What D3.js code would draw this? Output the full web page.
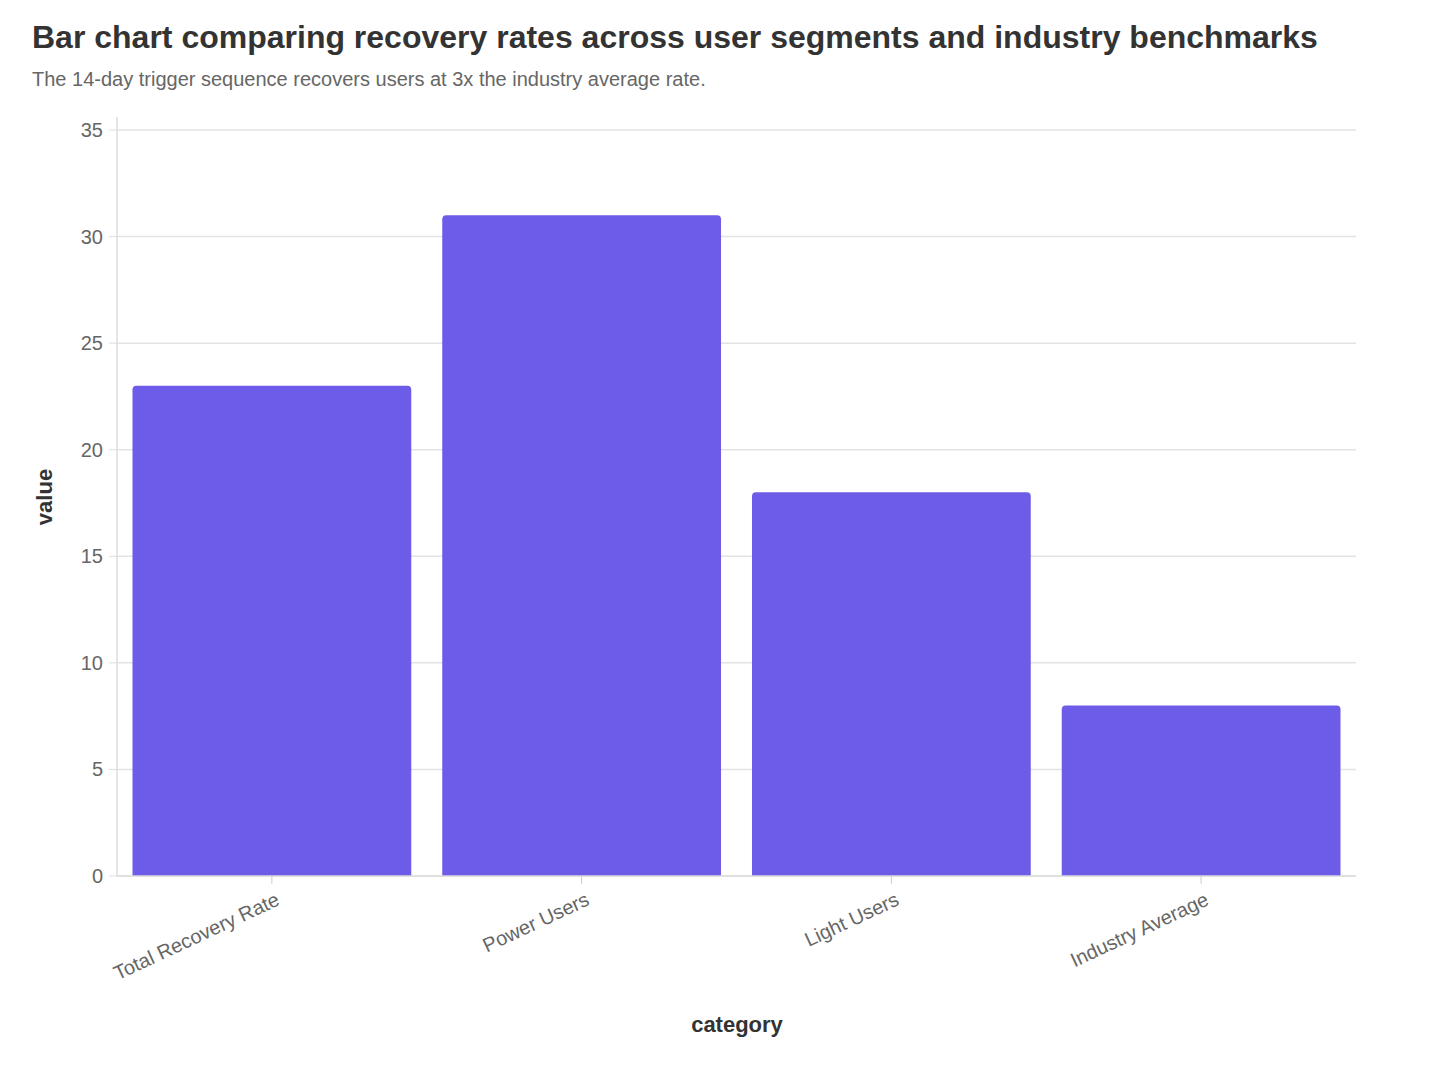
<!DOCTYPE html>
<html><head><meta charset="utf-8">
<script src="https://cdn.jsdelivr.net/npm/d3@7"></script>
<style>body{margin:0;background:#fff;font-family:"Liberation Sans",Arial,sans-serif}</style>
</head><body><svg id="c" width="1448" height="1066"></svg>
<script>
const categories=["Total Recovery Rate","Power Users","Light Users","Industry Average"];
const values=[23,31,18,8];
const yTicks=[0,5,10,15,20,25,30,35];
const svg=d3.select("#c");
const L=117,R=1356,T=117,B=876;
const x=d3.scaleBand().domain(categories).range([L,R]).paddingInner(0.1).paddingOuter(0.05);
const y=d3.scaleLinear().domain([0,35]).range([B,130]);
svg.append("text").attr("x",32).attr("y",48).attr("font-size",32).attr("font-weight","bold").attr("fill","#333").text("Bar chart comparing recovery rates across user segments and industry benchmarks");
svg.append("text").attr("x",32).attr("y",86).attr("font-size",20).attr("fill","#666").text("The 14-day trigger sequence recovers users at 3x the industry average rate.");
svg.append("g").selectAll("line").data(yTicks).join("line").attr("x1",L).attr("x2",R).attr("y1",d=>y(d)).attr("y2",d=>y(d)).attr("stroke","#e3e3e3").attr("stroke-width",1.5);
svg.append("g").selectAll("text").data(yTicks).join("text").attr("x",103).attr("y",d=>y(d)).attr("dy","0.35em").attr("text-anchor","end").attr("font-size",20).attr("fill","#666").text(d=>d);
svg.append("g").selectAll("line").data(yTicks).join("line").attr("x1",109).attr("x2",L).attr("y1",d=>y(d)).attr("y2",d=>y(d)).attr("stroke","#ddd");
const r=4;
svg.append("g").selectAll("path").data(values).join("path").attr("fill","#6c5ce7").attr("d",(d,i)=>{
 const x0=x(categories[i]),w=x.bandwidth(),y0=y(d),h=B-y0;
 return `M${x0},${B}V${y0+r}Q${x0},${y0} ${x0+r},${y0}H${x0+w-r}Q${x0+w},${y0} ${x0+w},${y0+r}V${B}Z`;});
svg.append("line").attr("x1",L).attr("x2",L).attr("y1",T).attr("y2",B).attr("stroke","#ddd").attr("stroke-width",1.5);
svg.append("line").attr("x1",L).attr("x2",R).attr("y1",B).attr("y2",B).attr("stroke","#ddd").attr("stroke-width",1.5);
categories.forEach(c=>{
 const cx=x(c)+x.bandwidth()/2;
 svg.append("line").attr("x1",cx).attr("x2",cx).attr("y1",B).attr("y2",B+8).attr("stroke","#ccc");
 svg.append("text").attr("transform",`translate(${cx+6},${B+22}) rotate(-25)`).attr("text-anchor","end").attr("dy","0.35em").attr("font-size",20).attr("fill","#666").text(c);
});
svg.append("text").attr("x",737).attr("y",1032).attr("text-anchor","middle").attr("font-size",22).attr("font-weight","bold").attr("fill","#333").text("category");
svg.append("text").attr("transform","translate(52,497) rotate(-90)").attr("text-anchor","middle").attr("font-size",22).attr("font-weight","bold").attr("fill","#333").text("value");
</script></body></html>
